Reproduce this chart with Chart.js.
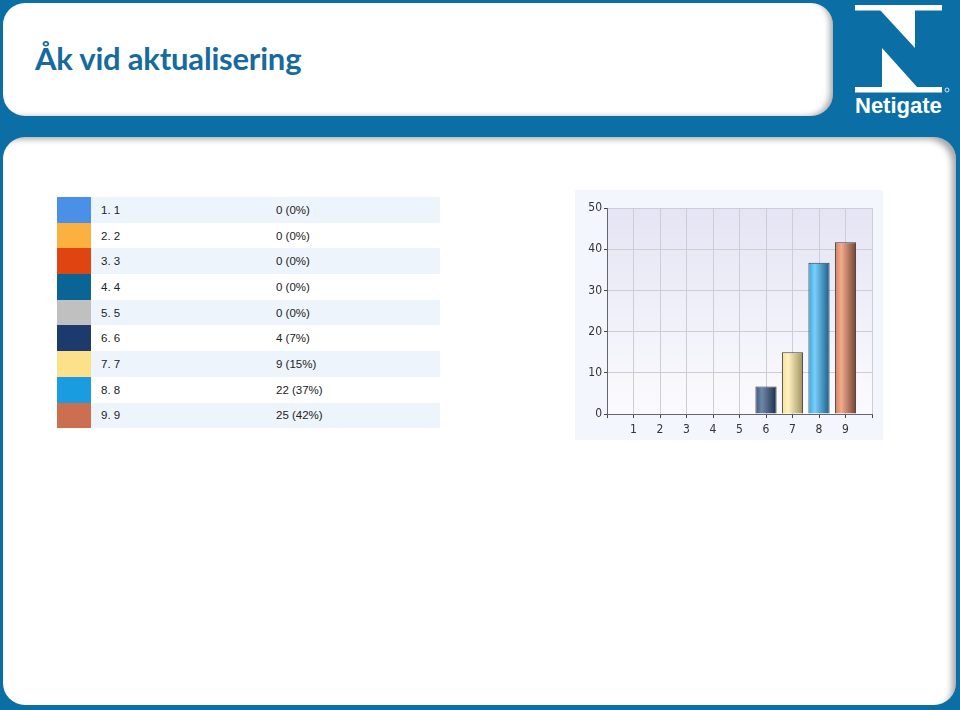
<!DOCTYPE html>
<html>
<head>
<meta charset="utf-8">
<script src="https://cdn.jsdelivr.net/npm/chart.js@4/dist/chart.umd.min.js"></script>
<style>
  html, body { margin: 0; padding: 0; }
  body { width: 960px; height: 710px; background: #0b6ea5; position: relative; overflow: hidden; font-family: "Liberation Sans", Arial, sans-serif; }
  .header { position: absolute; left: 3px; top: 3px; width: 830px; height: 113px; background: #fff; border-radius: 22px;
            box-shadow: inset -6px -2px 6px -3px rgba(0,0,0,0.35); }
  .header h1 { position: absolute; left: 32px; top: 37px; margin: 0; font-family: Lato, "Open Sans", sans-serif; font-weight: 700;
               font-size: 31px; line-height: 36px; color: #176a9d; letter-spacing: -0.2px; }
  .panel { position: absolute; left: 3px; top: 137px; width: 953px; height: 568px; background: #fff; border-radius: 22px;
           box-shadow: inset -7px 5px 6px -3px rgba(0,0,0,0.35); }
  .logo { position: absolute; left: 850px; top: 0; }
  .brand { position: absolute; left: 855px; top: 93px; color: #fff; font: bold 22px "Liberation Sans", Arial, sans-serif; letter-spacing: 0px; }
  table { position: absolute; left: 57px; top: 197px; border-collapse: collapse; width: 383px; font-size: 11.5px; color: #222; }
  td { height: 25.7px; padding: 0; }
  td.sw { width: 34px; }
  td.lab { width: 175px; padding-left: 10px; }
  tr:nth-child(odd) td.lab, tr:nth-child(odd) td.val { background: #eef4fc; }
  .chartbox { position: absolute; left: 575px; top: 190px; width: 308px; height: 250px; background: #f3f6fc; }
</style>
</head>
<body>
<div class="header"><h1>Åk vid aktualisering</h1></div>
<svg class="logo" width="110" height="100">
  <rect x="5" y="5" width="87" height="5.5" fill="#fff"/>
  <polygon points="30,10 65,10 65,48" fill="#fff"/>
  <polygon points="32,48 32,87 67,87" fill="#fff"/>
  <rect x="5" y="87" width="87" height="5.5" fill="#fff"/>
  <circle cx="97" cy="90" r="2" fill="none" stroke="#fff" stroke-width="0.8"/>
</svg>
<div class="brand">Netigate</div>
<div class="panel"></div>
<table id="tbl"></table>
<div class="chartbox"><canvas id="chart"></canvas></div>

<script>
const categories = ["1", "2", "3", "4", "5", "6", "7", "8", "9"];
const counts = [0, 0, 0, 0, 0, 4, 9, 22, 25];
const percents = [0, 0, 0, 0, 0, 7, 15, 37, 42];
// bar heights (percent of 60 answers)
const barValues = [0, 0, 0, 0, 0, 6.7, 15, 36.7, 41.7];
const swatchColors = ["#4a8fe8", "#fbb040", "#e04411", "#0a6496", "#c0c0c0", "#1c3a6c", "#fde08a", "#1a9de0", "#cc6e50"];
const barShades = [
    ["#4a8fe8", "#8ab8f8", "#204a90"],
    ["#fbb040", "#ffd090", "#a06010"],
    ["#e04411", "#f08060", "#802008"],
    ["#0a6496", "#4a94c6", "#043a58"],
    ["#c0c0c0", "#e8e8e8", "#707070"],
    ["#3c5679", "#6e88aa", "#1c2e48"],
    ["#f6e098", "#fff2c0", "#a09060"],
    ["#38a6e2", "#78d0fa", "#1a5e8a"],
    ["#d47e5e", "#f2ac8e", "#744232"]
];
const yTicks = [0, 10, 20, 30, 40, 50];

// legend table
const tbl = document.getElementById("tbl");
categories.forEach((c, i) => {
    const tr = document.createElement("tr");
    tr.innerHTML = '<td class="sw" style="background:' + swatchColors[i] + '"></td>' +
        '<td class="lab">' + (i + 1) + '. ' + c + '</td>' +
        '<td class="val">' + counts[i] + ' (' + percents[i] + '%)</td>';
    tbl.appendChild(tr);
});

const plotBg = {
    id: "plotBg",
    beforeDraw(chart) {
        const a = chart.chartArea;
        const ctx = chart.ctx;
        const g = ctx.createLinearGradient(0, a.top, 0, a.bottom);
        g.addColorStop(0, "#e4e4f4");
        g.addColorStop(1, "#fbfbfe");
        ctx.save();
        ctx.fillStyle = g;
        ctx.fillRect(a.left, a.top, a.right - a.left, a.bottom - a.top);
        ctx.restore();
    }
};

function barFill(ctx) {
    const i = ctx.dataIndex;
    const shades = barShades[i];
    const chart = ctx.chart;
    const xs = chart.scales.x;
    if (!xs || !chart.chartArea) return shades[0];
    const cx = xs.getPixelForValue(i + 1);
    const w = (xs.getPixelForValue(1) - xs.getPixelForValue(0)) * 0.8;
    const g = chart.ctx.createLinearGradient(cx - w / 2, 0, cx + w / 2, 0);
    g.addColorStop(0, shades[0]);
    g.addColorStop(0.3, shades[1]);
    g.addColorStop(1, shades[2]);
    return g;
}

new Chart(document.getElementById("chart"), {
    type: "bar",
    data: {
        datasets: [{
            data: categories.map((c, i) => ({ x: Number(c), y: barValues[i] })),
            backgroundColor: barFill,
            borderColor: "#3a3a3a",
            borderWidth: 1,
            barPercentage: 0.8,
            categoryPercentage: 1
        }]
    },
    options: {
        responsive: true,
        maintainAspectRatio: false,
        animation: false,
        layout: { padding: { top: 18, right: 11, bottom: 0, left: 0 } },
        plugins: { legend: { display: false }, tooltip: { enabled: false } },
        scales: {
            x: {
                type: "linear",
                min: 0,
                max: 10,
                offset: false,
                afterFit: s => { s.height = 26; },
                afterBuildTicks: s => { s.ticks = [0, 1, 2, 3, 4, 5, 6, 7, 8, 9, 10].map(v => ({ value: v })); },
                ticks: {
                    autoSkip: false,
                    maxRotation: 0,
                    padding: 5,
                    color: "#333",
                    font: { family: "'Liberation Sans Narrow', 'DejaVu Sans Condensed', Arial", size: 12 },
                    callback: v => (v >= 1 && v <= 9) ? categories[v - 1] : ""
                },
                grid: { offset: false, color: "#cdcdd6", tickColor: "#444", tickLength: 4 },
                border: { color: "#666" }
            },
            y: {
                min: 0,
                max: 50,
                afterFit: s => { s.width = 32; },
                afterBuildTicks: s => { s.ticks = yTicks.map(v => ({ value: v })); },
                ticks: {
                    padding: 2,
                    color: "#333",
                    font: { family: "'Liberation Sans Narrow', 'DejaVu Sans Condensed', Arial", size: 12 }
                },
                grid: { color: "#cdcdd6", tickColor: "#444", tickLength: 3 },
                border: { color: "#666" }
            }
        }
    },
    plugins: [plotBg]
});
</script>
</body>
</html>
